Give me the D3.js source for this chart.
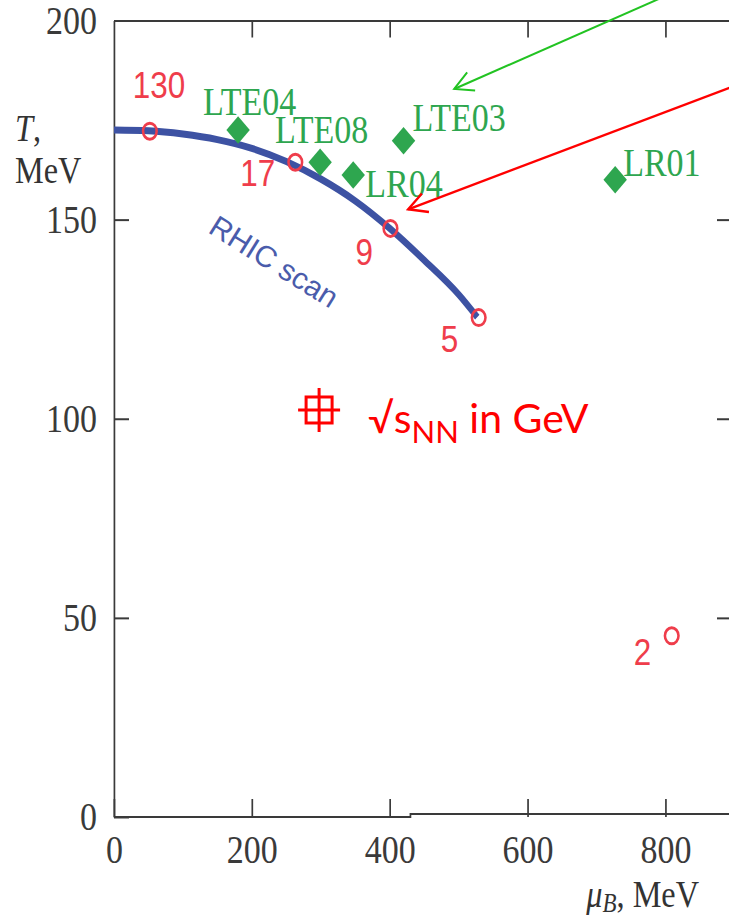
<!DOCTYPE html>
<html>
<head>
<meta charset="utf-8">
<script src="https://cdn.jsdelivr.net/npm/d3@7"></script>
<style>
  body { margin: 0; background: #fff; }
  svg { display: block; }
</style>
</head>
<body>
<div id="chart"></div>
<script>
// RHIC scan freeze-out curve
const curveMu = [0, 50, 100, 150, 200, 250, 300, 350, 400, 450, 500, 527];
const curveT = [172.5, 172.3, 171.5, 170.1, 167.9, 164.6, 160.2, 154.7, 147.8, 139.8, 131.2, 125.5];

// red open circles, labelled with sqrt(s_NN) in GeV
const rhicMu = [52, 263, 401, 529, 809];
const rhicT = [172.2, 164.4, 147.8, 125.4, 45.5];
const rhicLabels = ['130', '17', '9', '5', '2'];

// green diamonds
const lteMu = [180, 299, 347, 420, 727];
const lteT = [172.5, 164.4, 161.2, 169.8, 160.0];
const lteLabels = ['LTE04', 'LTE08', 'LR04', 'LTE03', 'LR01'];

// axis ticks
const xTicks = [0, 200, 400, 600, 800];
const yTicks = [0, 50, 100, 150, 200];

// annotations (data coordinates: tail -> tip)
const arrows = [
  { color: '#22c322', width: 2, from: [836, 208.9], to: [493.5, 182.8] },
  { color: '#ff0000', width: 2.4, from: [937, 186.0], to: [426.7, 152.6] }
];

// label offsets in screen pixels from each mark
const rhicOffsets = [[-17, -33], [-55, 24], [-35, 37], [-38, 34], [-38, 29]];
const lteOffsets = [[-35, -15], [-45, -19], [12, 22], [9, -10], [8, -4]];

const width = 729, height = 918;
const sx = 0.85; // the original figure is squeezed horizontally
const red = '#ef3d4b', green = '#2ea64f', blue = '#3d52a3', axisColor = '#3a3a3a';
const serif = "'Liberation Serif', 'Times New Roman', serif";
const sans = "'Liberation Sans', Arial, sans-serif";

const svg = d3.select('#chart')
  .append('svg')
  .attr('width', width)
  .attr('height', height);

const x = d3.scaleLinear().domain([0, 895]).range([114 / sx, 731 / sx]);
const y = d3.scaleLinear().domain([0, 200]).range([817, 20.5]);
const px = v => x(v) * sx; // screen x for overlays

const plot = svg.append('g').attr('transform', `scale(${sx},1)`);

function styleAxis(g) {
  g.attr('font-family', serif).attr('font-size', 40).attr('color', axisColor);
  g.selectAll('line, path').attr('stroke-width', 2);
}

// left axis
plot.append('g')
  .attr('transform', `translate(${x(0)},0)`)
  .call(d3.axisLeft(y).tickValues(yTicks).tickSize(-15 / sx).tickSizeOuter(0).tickPadding(20))
  .call(styleAxis);

// bottom axis (ticks inward, with the little step in the base line)
const bottom = plot.append('g')
  .attr('transform', `translate(0,${y(0)})`)
  .call(d3.axisBottom(x).tickValues(xTicks).tickSize(-18).tickSizeOuter(0).tickPadding(18))
  .call(styleAxis);
bottom.select('.domain').remove();
bottom.append('path')
  .attr('d', `M${x(0)},0H${x(430)}V-3H${x(895)}`)
  .attr('fill', 'none')
  .attr('stroke', axisColor)
  .attr('stroke-width', 2);

// top axis
plot.append('g')
  .attr('transform', `translate(0,${y(200)})`)
  .call(d3.axisTop(x).tickValues([200, 400, 600, 800]).tickSize(-17).tickSizeOuter(0).tickFormat(''))
  .call(styleAxis);

// right axis
plot.append('g')
  .attr('transform', `translate(${x(895)},0)`)
  .call(d3.axisRight(y).tickValues([50, 100, 150]).tickSize(-14 / sx).tickSizeOuter(0).tickFormat(''))
  .call(styleAxis);

// axis titles
const tTitle = plot.append('text')
  .attr('x', 15 / sx).attr('y', 141)
  .attr('font-family', serif).attr('font-size', 38).attr('fill', '#333');
tTitle.append('tspan').attr('font-style', 'italic').text('T');
tTitle.append('tspan').text(',');
plot.append('text')
  .attr('x', 15 / sx).attr('y', 183)
  .attr('font-family', serif).attr('font-size', 38).attr('fill', '#333')
  .text('MeV');
const muTitle = plot.append('text')
  .attr('x', 699 / sx).attr('y', 907)
  .attr('text-anchor', 'end')
  .attr('font-family', serif).attr('font-size', 38).attr('fill', '#333');
muTitle.append('tspan').attr('font-style', 'italic').text('μ');
muTitle.append('tspan').attr('font-style', 'italic').attr('font-size', 27).attr('dy', 5).text('B');
muTitle.append('tspan').attr('dy', -5).text(', MeV');

// RHIC scan curve
const line = d3.line()
  .x(i => x(curveMu[i]))
  .y(i => y(curveT[i]))
  .curve(d3.curveMonotoneX);

plot.append('path')
  .datum(d3.range(curveMu.length))
  .attr('d', line)
  .attr('fill', 'none')
  .attr('stroke', blue)
  .attr('stroke-width', 7);

// green diamonds and labels
plot.selectAll('.lte')
  .data(d3.range(lteMu.length))
  .join('path')
  .attr('class', 'lte')
  .attr('d', d3.symbol(d3.symbolSquare, 380))
  .attr('transform', i => `translate(${x(lteMu[i])},${y(lteT[i])}) rotate(45)`)
  .attr('fill', green);

plot.selectAll('.lte-label')
  .data(d3.range(lteMu.length))
  .join('text')
  .attr('class', 'lte-label')
  .attr('x', i => x(lteMu[i]) + lteOffsets[i][0] / sx)
  .attr('y', i => y(lteT[i]) + lteOffsets[i][1])
  .attr('font-family', serif)
  .attr('font-size', 40)
  .attr('fill', green)
  .text(i => lteLabels[i]);

// red open circles and labels
plot.selectAll('.rhic')
  .data(d3.range(rhicMu.length))
  .join('circle')
  .attr('class', 'rhic')
  .attr('cx', i => x(rhicMu[i]))
  .attr('cy', i => y(rhicT[i]))
  .attr('r', 8)
  .attr('fill', 'none')
  .attr('stroke', red)
  .attr('stroke-width', 3);

plot.selectAll('.rhic-label')
  .data(d3.range(rhicMu.length))
  .join('text')
  .attr('class', 'rhic-label')
  .attr('x', i => x(rhicMu[i]) + rhicOffsets[i][0] / sx)
  .attr('y', i => y(rhicT[i]) + rhicOffsets[i][1])
  .attr('font-family', sans)
  .attr('font-size', 37)
  .attr('fill', red)
  .text(i => rhicLabels[i]);

// "RHIC scan" label along the curve
svg.append('text')
  .attr('transform', `translate(${px(135)},${y(146.9)}) rotate(32)`)
  .attr('font-family', sans)
  .attr('font-size', 30)
  .attr('fill', '#4a5cab')
  .text('RHIC scan');

// arrows
const defs = svg.append('defs');
arrows.forEach((a, k) => {
  defs.append('marker')
    .attr('id', 'head' + k)
    .attr('markerUnits', 'userSpaceOnUse')
    .attr('viewBox', '-22 -12 24 24')
    .attr('markerWidth', 24).attr('markerHeight', 24)
    .attr('refX', 0).attr('refY', 0)
    .attr('orient', 'auto')
    .append('path')
    .attr('d', 'M-18.5,-9.9L0,0L-18.5,9.9')
    .attr('fill', 'none')
    .attr('stroke', a.color)
    .attr('stroke-width', a.width);

  svg.append('line')
    .attr('x1', px(a.from[0])).attr('y1', y(a.from[1]))
    .attr('x2', px(a.to[0])).attr('y2', y(a.to[1]))
    .attr('stroke', a.color)
    .attr('stroke-width', a.width)
    .attr('marker-end', `url(#head${k})`);
});

// legend: crosshair symbol and text
const legendMu = 297.5, legendT = 102.2;
const lg = svg.append('g')
  .attr('transform', `translate(${px(legendMu)},${y(legendT)})`)
  .attr('stroke', '#ff0000')
  .attr('stroke-width', 3)
  .attr('fill', 'none');
lg.append('rect').attr('x', -13).attr('y', -13).attr('width', 26).attr('height', 26);
lg.append('line').attr('x1', -21).attr('x2', 21);
lg.append('line').attr('y1', -22).attr('y2', 22);

const legendText = svg.append('text')
  .attr('x', px(legendMu) + 49)
  .attr('y', y(legendT) + 23)
  .attr('font-family', "Lato, 'Open Sans', sans-serif")
  .attr('font-size', 41)
  .attr('fill', '#ff0000');
legendText.append('tspan').text('√s');
legendText.append('tspan').attr('font-size', 31).attr('dy', 10).text('NN');
legendText.append('tspan').attr('dy', -10).text(' in GeV');
</script>
</body>
</html>
